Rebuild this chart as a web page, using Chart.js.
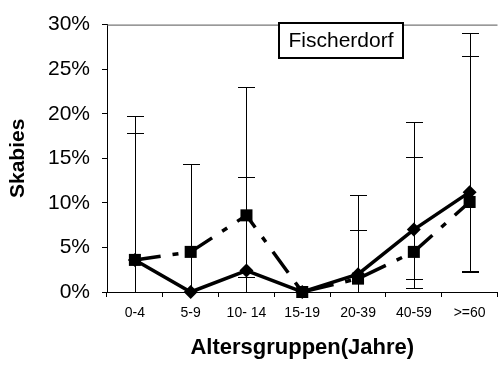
<!DOCTYPE html>
<html>
<head>
<meta charset="utf-8">
<script src="https://cdn.jsdelivr.net/npm/chart.js@4"></script>
<style>
  html, body { margin: 0; padding: 0; background: #fff; overflow: hidden; }
  canvas { display: block; }
</style>
</head>
<body>
<canvas id="chart" width="506" height="365"></canvas>
<script>
// age groups
const categories = ["0-4", "5-9", "10- 14", "15-19", "20-39", "40-59", ">=60"];

// solid line, diamonds
const diamondValues = [3.6, 0, 2.4, 0, 2.0, 7.0, 11.2];
const diamondLow    = [0, null, 0, null, 0, 1.5, 2.4];
const diamondHigh   = [17.8, null, 12.9, null, 10.9, 19.1, 29.1];

// dashed line, squares
const squareValues = [3.6, 4.5, 8.6, 0, 1.5, 4.5, 10.1];
const squareLow    = [0, 0, 1.7, null, 0, 0.4, 2.2];
const squareHigh   = [19.7, 14.4, 23.0, null, 7.0, 15.2, 26.5];

const yTicks = [0, 5, 10, 15, 20, 25, 30];

const FONT = "Arial, 'Liberation Sans', sans-serif";

// error bars behind the lines
const errorBars = {
  id: 'errorBars',
  beforeDatasetsDraw(chart) {
    const ctx = chart.ctx;
    const x = chart.scales.x, y = chart.scales.y;
    const sets = [[diamondLow, diamondHigh], [squareLow, squareHigh]];
    ctx.save();
    ctx.strokeStyle = '#000';
    ctx.lineWidth = 1;
    sets.forEach(([lo, hi]) => {
      lo.forEach((l, i) => {
        if (l === null) return;
        const px = Math.round(x.getPixelForValue(i)) + 0.5;
        const y1 = Math.round(y.getPixelForValue(l)) + 0.5;
        const y2 = Math.round(y.getPixelForValue(hi[i])) + 0.5;
        ctx.beginPath();
        ctx.moveTo(px, y1); ctx.lineTo(px, y2);
        ctx.moveTo(px - 8.5, y2); ctx.lineTo(px + 8.5, y2);
        if (l > 0) { ctx.moveTo(px - 8.5, y1); ctx.lineTo(px + 8.5, y1); }
        ctx.stroke();
      });
    });
    ctx.restore();
  }
};

// plot frame + place name box
const frame = {
  id: 'frame',
  beforeDatasetsDraw(chart) {
    const { left, top, right } = chart.chartArea;
    const ctx = chart.ctx;
    ctx.save();
    ctx.strokeStyle = '#555';
    ctx.lineWidth = 1;
    ctx.beginPath();
    ctx.moveTo(left, top + 0.5); ctx.lineTo(right, top + 0.5);
    ctx.stroke();
    ctx.restore();
  },
  afterDraw(chart) {
    const ctx = chart.ctx;
    ctx.save();
    ctx.fillStyle = '#fff';
    ctx.fillRect(278, 22, 126, 37);
    ctx.strokeStyle = '#000';
    ctx.lineWidth = 2;
    ctx.strokeRect(279, 23, 124, 35);
    ctx.fillStyle = '#000';
    ctx.font = '21px ' + FONT;
    ctx.textAlign = 'center';
    ctx.textBaseline = 'middle';
    ctx.fillText('Fischerdorf', 341, 41);
    ctx.restore();
  }
};

new Chart(document.getElementById('chart'), {
  type: 'line',
  data: {
    labels: categories,
    datasets: [
      {
        data: squareValues,
        borderColor: '#000',
        backgroundColor: '#000',
        borderWidth: 3.5,
        borderDash: [26, 12, 6, 12],
        pointStyle: 'rect',
        pointRadius: 8.5,
        pointBorderWidth: 0,
        tension: 0,
        clip: false
      },
      {
        data: diamondValues,
        borderColor: '#000',
        backgroundColor: '#000',
        borderWidth: 3.5,
        pointStyle: 'rectRot',
        pointRadius: 7,
        pointBorderWidth: 0,
        tension: 0,
        clip: false
      }
    ]
  },
  options: {
    responsive: false,
    animation: false,
    layout: { padding: { top: 18, right: 0, left: 0, bottom: 0 } },
    plugins: { legend: { display: false }, tooltip: { enabled: false } },
    scales: {
      x: {
        offset: true,
        afterFit(s) { s.height = 73; },
        border: { color: '#000', width: 1 },
        grid: { offset: true, drawOnChartArea: false, drawTicks: true, tickLength: 5, color: '#000' },
        ticks: { color: '#000', font: { family: FONT, size: 14 }, padding: 8, maxRotation: 0, autoSkip: false },
        title: {
          display: true,
          text: 'Altersgruppen(Jahre)',
          color: '#000',
          font: { family: FONT, size: 22, weight: 'bold' },
          padding: { top: 0, bottom: 4 }
        }
      },
      y: {
        min: 0,
        max: 30,
        afterFit(s) { s.width = 107; },
        afterBuildTicks(s) { s.ticks = yTicks.map(v => ({ value: v })); },
        border: { color: '#000', width: 1 },
        grid: { drawOnChartArea: false, drawTicks: true, tickLength: 5, color: '#000' },
        ticks: {
          color: '#000',
          font: { family: FONT, size: 21 },
          padding: 12,
          callback: v => v + '%'
        },
        title: {
          display: true,
          text: 'Skabies',
          color: '#000',
          font: { family: FONT, size: 21, weight: 'bold' },
          padding: { top: 6, bottom: 0 }
        }
      }
    }
  },
  plugins: [errorBars, frame]
});
</script>
</body>
</html>
